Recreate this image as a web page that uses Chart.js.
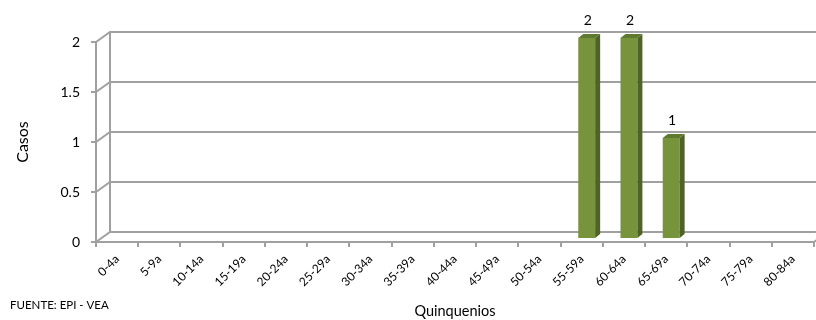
<!DOCTYPE html>
<html>
<head>
<meta charset="utf-8">
<script src="https://cdn.jsdelivr.net/npm/chart.js@4/dist/chart.umd.min.js"></script>
<style>
  html, body { margin: 0; padding: 0; background: #fff; overflow: hidden; }
  #casosChart { display: block; }
</style>
</head>
<body>
<canvas id="casosChart" width="816" height="320"></canvas>
<script>
const categories = ['0-4a', '5-9a', '10-14a', '15-19a', '20-24a', '25-29a', '30-34a', '35-39a',
    '40-44a', '45-49a', '50-54a', '55-59a', '60-64a', '65-69a', '70-74a', '75-79a', '80-84a'];
const casos = [0, 0, 0, 0, 0, 0, 0, 0, 0, 0, 0, 2, 2, 1, 0, 0, 0];
const yTicks = [0, 0.5, 1, 1.5, 2];

const FONT = 'Lato, "Liberation Sans", sans-serif';
const DX = 14, DY = 10;          // depth of the back wall
const BX = 5, BY = 4;            // bar shift / bar depth
const lineGray = '#a0a0a0';

const wallPlugin = {
    id: 'wall3d',
    beforeDatasetsDraw(chart) {
        const ctx = chart.ctx;
        const y = chart.scales.y;
        const left = chart.chartArea.left, right = chart.chartArea.right;
        ctx.save();
        ctx.strokeStyle = lineGray;
        ctx.lineWidth = 2;
        ctx.lineCap = 'butt';
        // back wall gridlines + diagonals on the side wall
        yTicks.forEach(v => {
            const py = Math.round(y.getPixelForValue(v));
            ctx.beginPath();
            ctx.moveTo(left, py);
            ctx.lineTo(left + DX, py - DY);
            ctx.lineTo(chart.width + 5, py - DY);
            ctx.stroke();
        });
        // back wall vertical edge
        const top = Math.round(y.getPixelForValue(2)), bot = Math.round(y.getPixelForValue(0));
        ctx.beginPath();
        ctx.moveTo(left + DX, top - DY);
        ctx.lineTo(left + DX, bot - DY);
        ctx.stroke();
        // front axes
        ctx.beginPath();
        ctx.moveTo(left, top);
        ctx.lineTo(left, bot);
        ctx.lineTo(right, bot);
        ctx.lineTo(right + DX, bot - DY);
        ctx.stroke();
        // y tick marks
        yTicks.forEach(v => {
            const py = Math.round(y.getPixelForValue(v));
            ctx.beginPath();
            ctx.moveTo(left - 5, py);
            ctx.lineTo(left, py);
            ctx.stroke();
        });
        // x tick marks at category boundaries
        const w = (right - left) / categories.length;
        for (let i = 0; i <= categories.length; i++) {
            const px = Math.round(left + i * w);
            ctx.beginPath();
            ctx.moveTo(px, bot);
            ctx.lineTo(px, bot + 5);
            ctx.stroke();
        }
        ctx.restore();

        // shift bars to the middle of the floor depth
        ctx.save();
        ctx.translate(BX, -BY);
    },
    afterDatasetsDraw(chart) {
        const ctx = chart.ctx;
        ctx.restore();
        const meta = chart.getDatasetMeta(0);
        ctx.save();
        meta.data.forEach((bar, i) => {
            if (!casos[i]) return;
            const x0 = bar.x - bar.width / 2 + BX;
            const x1 = x0 + bar.width;
            const t = bar.y - BY;
            const b = bar.base - BY;
            // side face
            ctx.fillStyle = '#4f6228';
            ctx.beginPath();
            ctx.moveTo(x1, t);
            ctx.lineTo(x1 + BX, t - BY);
            ctx.lineTo(x1 + BX, b - BY);
            ctx.lineTo(x1, b);
            ctx.closePath();
            ctx.fill();
            // top face
            ctx.fillStyle = '#5f7a2e';
            ctx.beginPath();
            ctx.moveTo(x0, t);
            ctx.lineTo(x0 + BX, t - BY);
            ctx.lineTo(x1 + BX, t - BY);
            ctx.lineTo(x1, t);
            ctx.closePath();
            ctx.fill();
            // value label
            ctx.fillStyle = '#000';
            ctx.font = '14px ' + FONT;
            ctx.textAlign = 'center';
            ctx.textBaseline = 'middle';
            ctx.fillText(String(casos[i]), (x0 + x1) / 2 + 1, t - 18);
        });
        // source note
        ctx.fillStyle = '#000';
        ctx.font = '11.5px ' + FONT;
        ctx.textAlign = 'left';
        ctx.textBaseline = 'middle';
        ctx.fillText('FUENTE: EPI - VEA', 10, 305);
        ctx.restore();
    }
};

const ctx = document.getElementById('casosChart').getContext('2d');
const chart = new Chart(ctx, {
    type: 'bar',
    data: {
        labels: categories,
        datasets: [{
            label: 'Casos',
            data: casos,
            backgroundColor: '#77933c',
            borderWidth: 0,
            barPercentage: 0.8,
            categoryPercentage: 0.5
        }]
    },
    options: {
        responsive: false,
        animation: false,
        layout: { padding: { top: 42, right: 2, left: 0, bottom: 0 } },
        plugins: {
            legend: { display: false },
            tooltip: { enabled: false }
        },
        scales: {
            x: {
                grid: { display: false, drawTicks: false },
                border: { display: false },
                ticks: {
                    color: '#000',
                    font: { family: FONT, size: 12 },
                    maxRotation: 45,
                    minRotation: 45,
                    autoSkip: false,
                    padding: 10
                },
                title: {
                    display: true,
                    text: 'Quinquenios',
                    color: '#000',
                    font: { family: FONT, size: 14.5 },
                    padding: { top: 0, bottom: 0 }
                },
                afterFit(scale) { scale.height = 78; }
            },
            y: {
                min: 0,
                max: 2,
                grid: { display: false, drawTicks: false },
                border: { display: false },
                ticks: {
                    stepSize: 0.5,
                    color: '#000',
                    font: { family: FONT, size: 14 },
                    padding: 16,
                    callback: value => String(value)
                },
                title: {
                    display: true,
                    text: 'Casos',
                    color: '#000',
                    font: { family: FONT, size: 16 },
                    padding: { top: 13, bottom: 0 }
                },
                afterFit(scale) { scale.width = 96; }
            }
        }
    },
    plugins: [wallPlugin]
});
</script>
</body>
</html>
